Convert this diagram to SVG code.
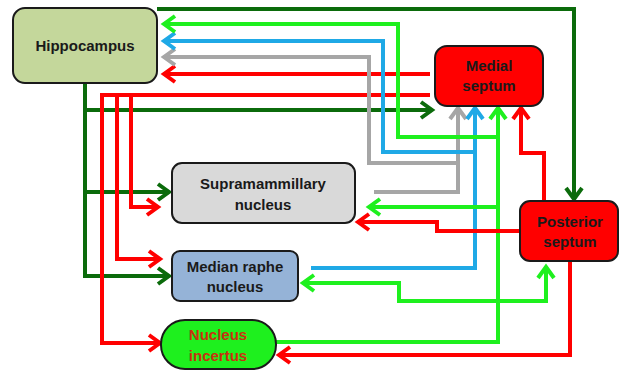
<svg xmlns="http://www.w3.org/2000/svg" width="619" height="373" viewBox="0 0 619 373">
<style>
.box{stroke:#1a1a1a;stroke-width:2}
.t{font-family:"Liberation Sans",Arial,sans-serif;font-weight:bold;font-size:15px;text-anchor:middle;fill:#1a1a1a}
.c{fill:none;stroke-width:4;stroke-linejoin:miter}
.dg{stroke:#0b6b0b}.rd{stroke:#ff0000}.gn{stroke:#1ef01e}.bl{stroke:#1fa9e6}.gy{stroke:#a6a6a6}
</style>
<defs>
<marker id="mdg" viewBox="0 0 14 18" markerWidth="14" markerHeight="18" refX="12" refY="9" orient="auto" markerUnits="userSpaceOnUse" overflow="visible"><path d="M1,1 L12,9 L1,17" fill="none" stroke="#0b6b0b" stroke-width="4"/></marker>
<marker id="mrd" viewBox="0 0 14 18" markerWidth="14" markerHeight="18" refX="12" refY="9" orient="auto" markerUnits="userSpaceOnUse" overflow="visible"><path d="M1,1 L12,9 L1,17" fill="none" stroke="#ff0000" stroke-width="4"/></marker>
<marker id="mgn" viewBox="0 0 14 18" markerWidth="14" markerHeight="18" refX="12" refY="9" orient="auto" markerUnits="userSpaceOnUse" overflow="visible"><path d="M1,1 L12,9 L1,17" fill="none" stroke="#1ef01e" stroke-width="4"/></marker>
<marker id="mbl" viewBox="0 0 14 18" markerWidth="14" markerHeight="18" refX="12" refY="9" orient="auto" markerUnits="userSpaceOnUse" overflow="visible"><path d="M1,1 L12,9 L1,17" fill="none" stroke="#1fa9e6" stroke-width="4"/></marker>
<marker id="mgy" viewBox="0 0 14 18" markerWidth="14" markerHeight="18" refX="12" refY="9" orient="auto" markerUnits="userSpaceOnUse" overflow="visible"><path d="M1,1 L12,9 L1,17" fill="none" stroke="#a6a6a6" stroke-width="4"/></marker>
</defs>
<g id="connectors">
<path class="c dg" d="M157,9 H574 V199" marker-end="url(#mdg)"/>
<path class="c dg" d="M85,83 V276 H169" marker-end="url(#mdg)"/>
<path class="c dg" d="M85,110 H432" marker-end="url(#mdg)"/>
<path class="c dg" d="M85,192 H169" marker-end="url(#mdg)"/>
<path class="c rd" d="M430,74 H164" marker-end="url(#mrd)"/>
<path class="c rd" d="M430,95 H102 V343 H160" marker-end="url(#mrd)"/>
<path class="c rd" d="M117,95 V259 H160" marker-end="url(#mrd)"/>
<path class="c rd" d="M131,95 V207 H158" marker-end="url(#mrd)"/>
<path class="c gy" d="M374,192 H458 V108" marker-end="url(#mgy)"/>
<path class="c gy" d="M458,163 H369 V57 H164" marker-end="url(#mgy)"/>
<path class="c bl" d="M311,268 H475 V108" marker-end="url(#mbl)"/>
<path class="c bl" d="M475,152 H383 V41 H164" marker-end="url(#mbl)"/>
<path class="c gn" d="M276,342 H498 V108" marker-end="url(#mgn)"/>
<path class="c gn" d="M498,137 H398 V24 H164" marker-end="url(#mgn)"/>
<path class="c gn" d="M498,207 H369" marker-end="url(#mgn)"/>
<path class="c gn" d="M498,301 H399 V283 H303" marker-end="url(#mgn)"/>
<path class="c gn" d="M498,301 H546 V267" marker-end="url(#mgn)"/>
<path class="c rd" d="M544,201 V153 H521 V108" marker-end="url(#mrd)"/>
<path class="c rd" d="M520,231 H437 V222 H358" marker-end="url(#mrd)"/>
<path class="c rd" d="M570,261 V355 H279" marker-end="url(#mrd)"/>
</g>
<g id="hippocampus">
<rect class="box" x="13" y="8" width="144" height="75" rx="12" fill="#c4d79b"/>
<text class="t" x="85" y="51">Hippocampus</text>
</g>
<g id="medial-septum">
<rect class="box" x="435" y="46" width="108" height="60" rx="12" fill="#ff0000"/>
<text class="t" x="489" y="71" fill="#2a0000">Medial</text>
<text class="t" x="489" y="91" fill="#2a0000">septum</text>
</g>
<g id="posterior-septum">
<rect class="box" x="520" y="201" width="98" height="60" rx="10" fill="#ff0000"/>
<text class="t" x="570" y="227">Posterior</text>
<text class="t" x="570" y="247">septum</text>
</g>
<g id="supramammillary">
<rect class="box" x="172" y="163" width="183" height="60" rx="10" fill="#d9d9d9"/>
<text class="t" x="263" y="189">Supramammillary</text>
<text class="t" x="263" y="210">nucleus</text>
</g>
<g id="median-raphe">
<rect class="box" x="172" y="251" width="126" height="50" rx="8" fill="#95b3d7"/>
<text class="t" x="235" y="272">Median raphe</text>
<text class="t" x="235" y="292">nucleus</text>
</g>
<g id="nucleus-incertus">
<rect class="box" x="161" y="320" width="115" height="49" rx="24" fill="#1ef01e"/>
<text class="t" x="218" y="340" style="fill:#c8320f">Nucleus</text>
<text class="t" x="218" y="361" style="fill:#c8320f">incertus</text>
</g>
</svg>
